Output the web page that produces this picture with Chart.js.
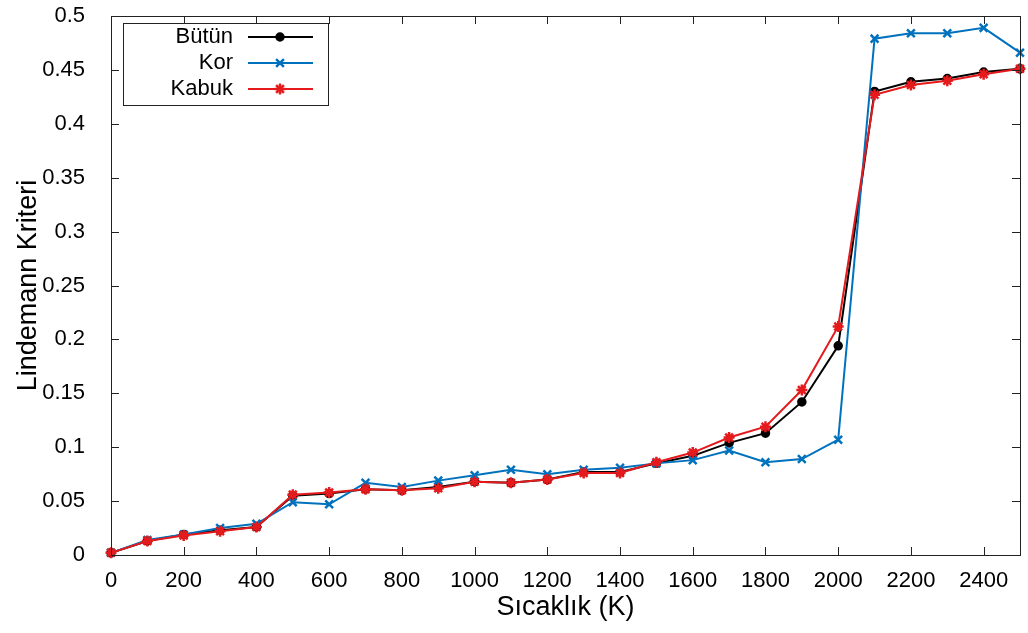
<!DOCTYPE html>
<html>
<head>
<meta charset="utf-8">
<script src="https://cdn.jsdelivr.net/npm/chart.js@4/dist/chart.umd.min.js"></script>
<style>
  html, body { margin: 0; padding: 0; background: #fff; }
  #wrap { width: 1028px; height: 633px; }
</style>
</head>
<body>
<div id="wrap"><canvas id="myChart" width="1028" height="633"></canvas></div>
<script>
const temps = [0, 100, 200, 300, 400, 500, 600, 700, 800, 900, 1000, 1100, 1200,
  1300, 1400, 1500, 1600, 1700, 1800, 1900, 2000, 2100, 2200, 2300, 2400, 2500];

const butun = [0.002, 0.013, 0.019, 0.023, 0.026, 0.055, 0.057, 0.061, 0.060, 0.063,
  0.068, 0.067, 0.070, 0.077, 0.077, 0.085, 0.092, 0.104, 0.113, 0.142,
  0.194, 0.430, 0.439, 0.442, 0.448, 0.451];

const kor = [0.002, 0.014, 0.019, 0.025, 0.029, 0.049, 0.047, 0.067, 0.063, 0.069,
  0.074, 0.079, 0.075, 0.079, 0.081, 0.085, 0.088, 0.097, 0.086, 0.089,
  0.107, 0.479, 0.484, 0.484, 0.489, 0.466];

const kabuk = [0.002, 0.013, 0.018, 0.022, 0.026, 0.056, 0.058, 0.061, 0.060, 0.062,
  0.068, 0.067, 0.070, 0.076, 0.076, 0.086, 0.095, 0.109, 0.119, 0.153,
  0.212, 0.427, 0.436, 0.440, 0.446, 0.451];

const seriesNames = ["Bütün", "Kor", "Kabuk"];
const xTicks = [0, 200, 400, 600, 800, 1000, 1200, 1400, 1600, 1800, 2000, 2200, 2400];
const yTicks = [0, 0.05, 0.1, 0.15, 0.2, 0.25, 0.3, 0.35, 0.4, 0.45, 0.5];

const FONT = "'Liberation Sans', Arial, sans-serif";
Chart.defaults.font.family = FONT;
Chart.defaults.color = "#000";

const toPoints = (ys) => temps.map((t, i) => ({ x: t, y: ys[i] }));

const makeSet = (label, ys, color, style, radius, order) => ({
  label,
  data: toPoints(ys),
  borderColor: color,
  backgroundColor: color,
  borderWidth: 2,
  pointStyle: style,
  pointRadius: radius,
  pointBorderWidth: 2.5,
  pointBorderColor: color,
  pointBackgroundColor: color,
  tension: 0,
  clip: false,
  order
});

// inward tick marks on all four sides + frame
const framePlugin = {
  id: "frame",
  afterDatasetsDraw(chart) {
    const { ctx, chartArea: a, scales } = chart;
    const len = 8;
    ctx.save();
    ctx.strokeStyle = "#222";
    ctx.lineWidth = 1;
    ctx.beginPath();
    xTicks.forEach((v) => {
      const px = Math.round(scales.x.getPixelForValue(v)) + 0.5;
      ctx.moveTo(px, a.bottom); ctx.lineTo(px, a.bottom - len);
      ctx.moveTo(px, a.top); ctx.lineTo(px, a.top + len);
    });
    yTicks.forEach((v) => {
      const py = Math.round(scales.y.getPixelForValue(v)) + 0.5;
      ctx.moveTo(a.left, py); ctx.lineTo(a.left + len, py);
      ctx.moveTo(a.right, py); ctx.lineTo(a.right - len, py);
    });
    ctx.stroke();
    ctx.strokeRect(Math.round(a.left) + 0.5, Math.round(a.top) + 0.5,
      Math.round(a.right - a.left), Math.round(a.bottom - a.top));
    ctx.restore();
  },
  afterDraw(chart) {
    // legend box in the top-left corner
    const { ctx } = chart;
    const box = { x: 123.5, y: 23.5, w: 205, h: 82 };
    ctx.save();
    ctx.fillStyle = "#fff";
    ctx.fillRect(box.x, box.y, box.w, box.h);
    ctx.strokeStyle = "#222";
    ctx.lineWidth = 1;
    ctx.strokeRect(box.x, box.y, box.w, box.h);
    ctx.font = "22px " + FONT;
    ctx.textAlign = "right";
    ctx.textBaseline = "middle";
    chart.data.datasets.forEach((ds, i) => {
      const cy = 37 + i * 26;
      ctx.fillStyle = "#000";
      ctx.fillText(ds.label, 233, cy);
      ctx.strokeStyle = ds.borderColor;
      ctx.lineWidth = 2;
      ctx.beginPath();
      ctx.moveTo(248, cy); ctx.lineTo(313, cy);
      ctx.stroke();
      ctx.lineWidth = ds.pointBorderWidth;
      Chart.helpers.drawPoint(ctx, {
        pointStyle: ds.pointStyle, radius: ds.pointRadius, borderWidth: ds.pointBorderWidth, rotation: 0
      }, 280, cy);
      ctx.fillStyle = ds.borderColor;
      ctx.fill();
    });
    ctx.restore();
  }
};

const ctx = document.getElementById("myChart").getContext("2d");
const myChart = new Chart(ctx, {
  type: "line",
  data: {
    datasets: [
      makeSet(seriesNames[0], butun, "#000000", "circle", 3.5, 3),
      makeSet(seriesNames[1], kor, "#0072bd", "crossRot", 5.5, 2),
      makeSet(seriesNames[2], kabuk, "#e41a1c", "star", 5.5, 1)
    ]
  },
  options: {
    responsive: false,
    animation: false,
    layout: { padding: { left: 0, top: 16, right: 6, bottom: 0 } },
    plugins: { legend: { display: false }, tooltip: { enabled: false } },
    scales: {
      x: {
        type: "linear",
        min: 0,
        max: 2500,
        afterFit: (s) => { s.height = 78; s.paddingLeft = 0; s.paddingRight = 0; },
        afterBuildTicks: (s) => { s.ticks = xTicks.map((v) => ({ value: v })); },
        grid: { display: false },
        border: { display: false },
        ticks: { font: { size: 22 }, padding: 5, maxRotation: 0, autoSkip: false, callback: (v) => String(v) },
        title: { display: true, text: "Sıcaklık (K)", font: { size: 27 }, padding: { top: 0, bottom: 9 } }
      },
      y: {
        type: "linear",
        min: 0,
        max: 0.5,
        afterFit: (s) => { s.width = 111; s.paddingTop = 0; s.paddingBottom = 0; },
        afterBuildTicks: (s) => { s.ticks = yTicks.map((v) => ({ value: v })); },
        grid: { display: false },
        border: { display: false },
        ticks: { font: { size: 22 }, padding: 18, callback: (v) => String(+v.toFixed(2)) },
        title: { display: true, text: "Lindemann Kriteri", font: { size: 27 }, padding: { top: 12, bottom: 0 } }
      }
    }
  },
  plugins: [framePlugin]
});
</script>
</body>
</html>
